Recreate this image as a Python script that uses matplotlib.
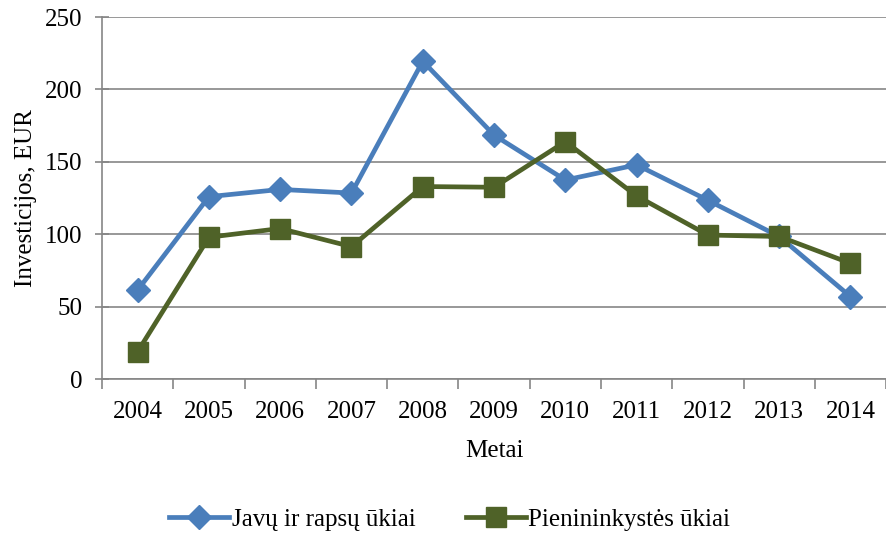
import matplotlib.pyplot as plt
import numpy as np

years = ['2004', '2005', '2006', '2007', '2008', '2009', '2010', '2011', '2012', '2013', '2014']
javai = [61.5, 126, 131, 128.5, 219.5, 168.5, 137.5, 148, 123.5, 98.5, 57]
pienas = [19, 98, 104, 91.5, 133, 132.5, 164, 126.5, 99.5, 98.5, 80]

plt.rcParams['font.family'] = ['Liberation Serif', 'DejaVu Serif']
fs = 18

fig = plt.figure(figsize=(8.87, 5.34), dpi=100)
ax = fig.add_axes([0.115, 0.29, 0.884, 0.678])

x = np.arange(len(years))
ax.plot(x, javai, color='#4A7EBB', lw=3.4, marker='D', markersize=12,
        label='Javų ir rapsų ūkiai', zorder=3)
ax.plot(x, pienas, color='#4F6228', lw=3.4, marker='s', markersize=14,
        label='Pienininkystės ūkiai', zorder=3)

ax.set_xlim(-0.5, len(years) - 0.5)
ax.set_ylim(0, 250)
ax.set_yticks(range(0, 251, 50))
ax.set_xticks(x)
ax.set_xticklabels(years)
ax.set_xticks(np.arange(-0.5, len(years), 1), minor=True)
ax.tick_params(axis='x', which='major', length=0, pad=16, labelsize=fs)
ax.tick_params(axis='x', which='minor', length=7, width=1.2, color='#868686', direction='out')
ax.tick_params(axis='y', length=10, width=1.2, color='#868686', labelsize=fs, pad=9,
               direction='inout')
ax.grid(axis='y', color='#868686', lw=1.2)
ax.set_axisbelow(True)

for s in ['top', 'right']:
    ax.spines[s].set_visible(False)
for s in ['left', 'bottom']:
    ax.spines[s].set_color('#868686')
    ax.spines[s].set_linewidth(1.2)

ax.set_xlabel('Metai', fontsize=fs, labelpad=12)
ax.set_ylabel('Investicijos, EUR', fontsize=fs, labelpad=6)

fig.legend(loc='center', bbox_to_anchor=(0.507, 0.027), ncol=2, frameon=False,
           fontsize=fs, handlelength=2.4, columnspacing=2.0, handletextpad=0.1)

fig.savefig('out.png', dpi=100)
